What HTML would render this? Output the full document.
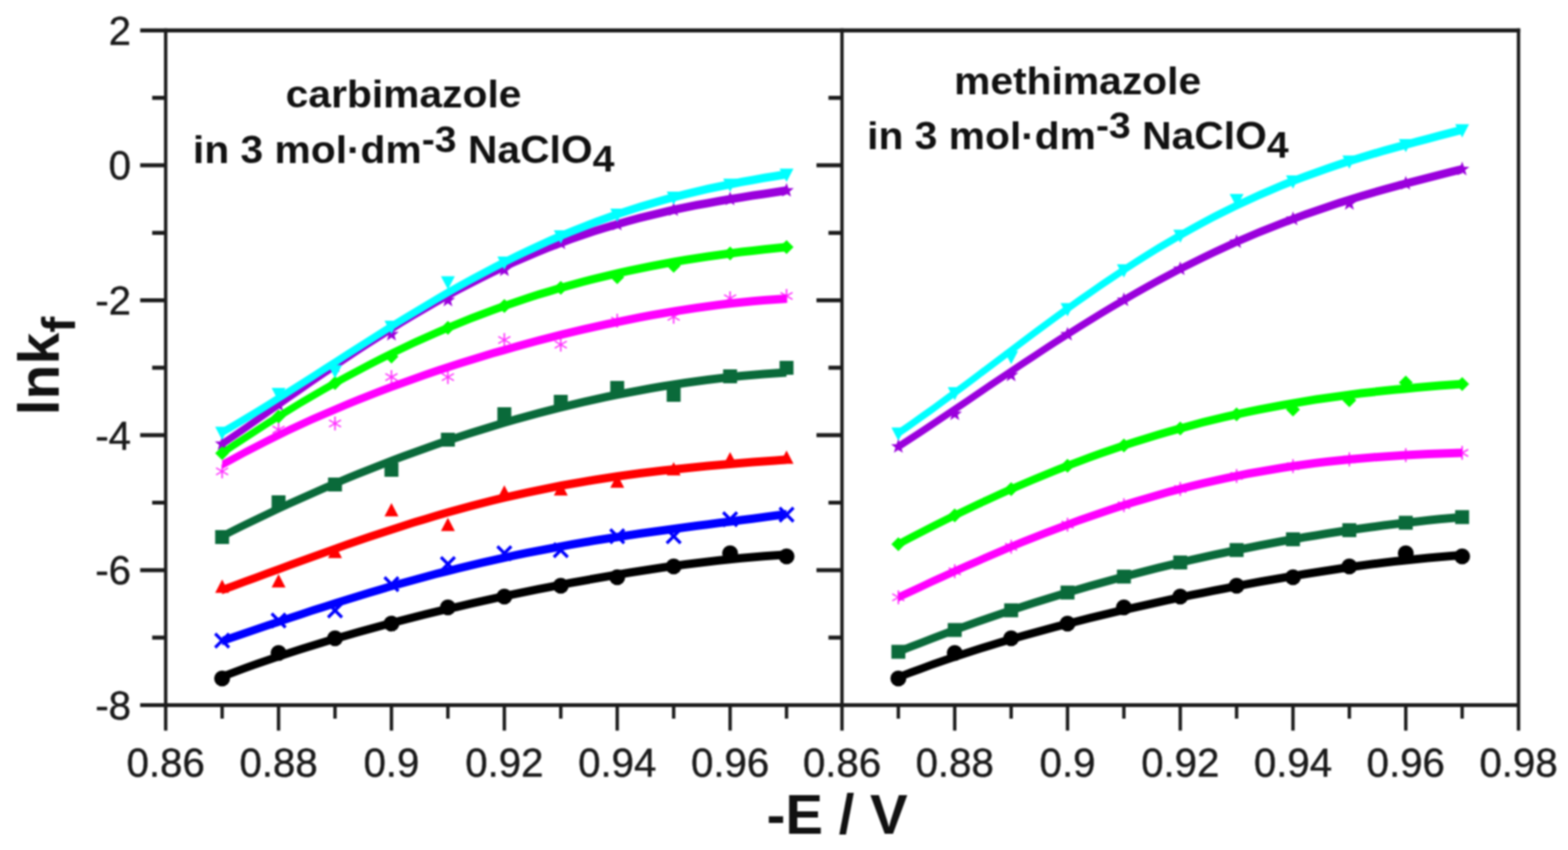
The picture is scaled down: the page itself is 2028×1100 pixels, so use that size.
<!DOCTYPE html>
<html lang="en">
<head>
<meta charset="utf-8">
<title>lnkf vs -E</title>
<style>
html,body{margin:0;padding:0;background:#fff;}
body{width:2028px;height:1100px;overflow:hidden;}
</style>
</head>
<body>
<svg width="2028" height="1100" viewBox="0 0 2028 1100" style="display:block;filter:blur(1px)">
<rect width="2028" height="1100" fill="#ffffff"/>
<g id="left-curves">
<polygon points="287.3,870.2 301.9,864.7 316.5,859.3 331.1,854.1 345.7,849.0 360.3,844.0 374.9,839.2 389.5,834.5 404.1,829.9 418.7,825.5 433.3,821.1 447.9,816.9 462.5,812.7 477.1,808.7 491.7,804.7 506.3,800.8 520.9,797.0 535.5,793.3 550.1,789.6 564.7,786.1 579.3,782.6 593.9,779.2 608.5,775.8 623.1,772.5 637.7,769.3 652.3,766.1 666.9,763.0 681.5,760.0 696.1,757.1 710.7,754.2 725.3,751.3 739.9,748.6 754.5,745.9 769.1,743.3 783.7,740.7 798.3,738.2 812.9,735.8 827.5,733.5 842.1,731.3 856.7,729.1 871.3,727.0 885.9,725.1 900.5,723.2 915.1,721.4 929.7,719.8 944.3,718.2 958.9,716.8 973.5,715.4 988.1,714.3 1002.7,713.2 1017.3,712.3 1017.3,723.3 1002.7,724.2 988.1,725.3 973.5,726.4 958.9,727.8 944.3,729.2 929.7,730.8 915.1,732.4 900.5,734.2 885.9,736.1 871.3,738.0 856.7,740.1 842.1,742.3 827.5,744.5 812.9,746.8 798.3,749.2 783.7,751.7 769.1,754.3 754.5,756.9 739.9,759.6 725.3,762.3 710.7,765.2 696.1,768.1 681.5,771.0 666.9,774.0 652.3,777.1 637.7,780.3 623.1,783.5 608.5,786.8 593.9,790.2 579.3,793.6 564.7,797.1 550.1,800.6 535.5,804.3 520.9,808.0 506.3,811.8 491.7,815.7 477.1,819.7 462.5,823.7 447.9,827.9 433.3,832.1 418.7,836.5 404.1,840.9 389.5,845.5 374.9,850.2 360.3,855.0 345.7,860.0 331.1,865.1 316.5,870.3 301.9,875.7 287.3,881.2" fill="#000000"/>
<circle cx="287.3" cy="878.0" r="10.3" fill="#000000"/>
<circle cx="360.3" cy="845.0" r="10.3" fill="#000000"/>
<circle cx="433.3" cy="826.0" r="10.3" fill="#000000"/>
<circle cx="506.3" cy="807.0" r="10.3" fill="#000000"/>
<circle cx="579.3" cy="786.0" r="10.3" fill="#000000"/>
<circle cx="652.3" cy="772.0" r="10.3" fill="#000000"/>
<circle cx="725.3" cy="758.0" r="10.3" fill="#000000"/>
<circle cx="798.3" cy="747.0" r="10.3" fill="#000000"/>
<circle cx="871.3" cy="733.0" r="10.3" fill="#000000"/>
<circle cx="944.3" cy="716.0" r="10.3" fill="#000000"/>
<circle cx="1017.3" cy="720.0" r="10.3" fill="#000000"/>
<polygon points="287.3,824.1 301.9,819.1 316.5,814.1 331.1,809.1 345.7,804.1 360.3,799.2 374.9,794.3 389.5,789.4 404.1,784.6 418.7,779.9 433.3,775.2 447.9,770.7 462.5,766.2 477.1,761.7 491.7,757.4 506.3,753.1 520.9,749.0 535.5,744.9 550.1,741.0 564.7,737.1 579.3,733.4 593.9,729.7 608.5,726.2 623.1,722.8 637.7,719.5 652.3,716.2 666.9,713.1 681.5,710.1 696.1,707.2 710.7,704.4 725.3,701.7 739.9,699.0 754.5,696.5 769.1,694.1 783.7,691.7 798.3,689.4 812.9,687.2 827.5,685.1 842.1,683.0 856.7,680.9 871.3,678.9 885.9,677.0 900.5,675.1 915.1,673.2 929.7,671.3 944.3,669.4 958.9,667.6 973.5,665.7 988.1,663.8 1002.7,661.8 1017.3,659.9 1017.3,670.9 1002.7,672.8 988.1,674.8 973.5,676.7 958.9,678.6 944.3,680.4 929.7,682.3 915.1,684.2 900.5,686.1 885.9,688.0 871.3,689.9 856.7,691.9 842.1,694.0 827.5,696.1 812.9,698.2 798.3,700.4 783.7,702.7 769.1,705.1 754.5,707.5 739.9,710.0 725.3,712.7 710.7,715.4 696.1,718.2 681.5,721.1 666.9,724.1 652.3,727.2 637.7,730.5 623.1,733.8 608.5,737.2 593.9,740.7 579.3,744.4 564.7,748.1 550.1,752.0 535.5,755.9 520.9,760.0 506.3,764.1 491.7,768.4 477.1,772.7 462.5,777.2 447.9,781.7 433.3,786.2 418.7,790.9 404.1,795.6 389.5,800.4 374.9,805.3 360.3,810.2 345.7,815.1 331.1,820.1 316.5,825.1 301.9,830.1 287.3,835.1" fill="#0000ff"/>
<path d="M278.3 820.0L296.3 838.0M278.3 838.0L296.3 820.0" stroke="#0000ff" stroke-width="4" fill="none"/>
<path d="M351.3 794.0L369.3 812.0M351.3 812.0L369.3 794.0" stroke="#0000ff" stroke-width="4" fill="none"/>
<path d="M424.3 781.0L442.3 799.0M424.3 799.0L442.3 781.0" stroke="#0000ff" stroke-width="4" fill="none"/>
<path d="M497.3 747.0L515.3 765.0M497.3 765.0L515.3 747.0" stroke="#0000ff" stroke-width="4" fill="none"/>
<path d="M570.3 721.0L588.3 739.0M570.3 739.0L588.3 721.0" stroke="#0000ff" stroke-width="4" fill="none"/>
<path d="M643.3 707.0L661.3 725.0M643.3 725.0L661.3 707.0" stroke="#0000ff" stroke-width="4" fill="none"/>
<path d="M716.3 703.0L734.3 721.0M716.3 721.0L734.3 703.0" stroke="#0000ff" stroke-width="4" fill="none"/>
<path d="M789.3 685.0L807.3 703.0M789.3 703.0L807.3 685.0" stroke="#0000ff" stroke-width="4" fill="none"/>
<path d="M862.3 685.0L880.3 703.0M862.3 703.0L880.3 685.0" stroke="#0000ff" stroke-width="4" fill="none"/>
<path d="M935.3 663.0L953.3 681.0M935.3 681.0L953.3 663.0" stroke="#0000ff" stroke-width="4" fill="none"/>
<path d="M1008.3 657.0L1026.3 675.0M1008.3 675.0L1026.3 657.0" stroke="#0000ff" stroke-width="4" fill="none"/>
<polygon points="287.3,758.0 301.9,752.7 316.5,747.3 331.1,742.0 345.7,736.6 360.3,731.2 374.9,725.8 389.5,720.5 404.1,715.2 418.7,709.9 433.3,704.7 447.9,699.6 462.5,694.5 477.1,689.5 491.7,684.7 506.3,679.9 520.9,675.2 535.5,670.6 550.1,666.2 564.7,661.8 579.3,657.6 593.9,653.6 608.5,649.6 623.1,645.8 637.7,642.1 652.3,638.6 666.9,635.2 681.5,632.0 696.1,628.9 710.7,625.9 725.3,623.1 739.9,620.4 754.5,617.9 769.1,615.4 783.7,613.2 798.3,611.0 812.9,608.9 827.5,607.0 842.1,605.2 856.7,603.5 871.3,601.9 885.9,600.4 900.5,598.9 915.1,597.5 929.7,596.2 944.3,595.0 958.9,593.8 973.5,592.6 988.1,591.5 1002.7,590.4 1017.3,589.2 1017.3,600.2 1002.7,601.4 988.1,602.5 973.5,603.6 958.9,604.8 944.3,606.0 929.7,607.2 915.1,608.5 900.5,609.9 885.9,611.4 871.3,612.9 856.7,614.5 842.1,616.2 827.5,618.0 812.9,619.9 798.3,622.0 783.7,624.2 769.1,626.4 754.5,628.9 739.9,631.4 725.3,634.1 710.7,636.9 696.1,639.9 681.5,643.0 666.9,646.2 652.3,649.6 637.7,653.1 623.1,656.8 608.5,660.6 593.9,664.6 579.3,668.6 564.7,672.8 550.1,677.2 535.5,681.6 520.9,686.2 506.3,690.9 491.7,695.7 477.1,700.5 462.5,705.5 447.9,710.6 433.3,715.7 418.7,720.9 404.1,726.2 389.5,731.5 374.9,736.8 360.3,742.2 345.7,747.6 331.1,753.0 316.5,758.3 301.9,763.7 287.3,769.0" fill="#ff0000"/>
<path d="M278.3 767.2L296.3 767.2L287.3 750.1Z" fill="#ff0000"/>
<path d="M351.3 760.2L369.3 760.2L360.3 743.1Z" fill="#ff0000"/>
<path d="M424.3 722.2L442.3 722.2L433.3 705.1Z" fill="#ff0000"/>
<path d="M497.3 668.2L515.3 668.2L506.3 651.1Z" fill="#ff0000"/>
<path d="M570.3 687.2L588.3 687.2L579.3 670.1Z" fill="#ff0000"/>
<path d="M643.3 645.2L661.3 645.2L652.3 628.1Z" fill="#ff0000"/>
<path d="M716.3 641.2L734.3 641.2L725.3 624.1Z" fill="#ff0000"/>
<path d="M789.3 631.2L807.3 631.2L798.3 614.1Z" fill="#ff0000"/>
<path d="M862.3 615.2L880.3 615.2L871.3 598.1Z" fill="#ff0000"/>
<path d="M935.3 602.2L953.3 602.2L944.3 585.1Z" fill="#ff0000"/>
<path d="M1008.3 600.2L1026.3 600.2L1017.3 583.1Z" fill="#ff0000"/>
<polygon points="287.3,688.5 301.9,681.1 316.5,673.8 331.1,666.7 345.7,659.7 360.3,652.8 374.9,646.0 389.5,639.4 404.1,632.9 418.7,626.5 433.3,620.2 447.9,614.1 462.5,608.1 477.1,602.2 491.7,596.4 506.3,590.8 520.9,585.3 535.5,579.9 550.1,574.7 564.7,569.5 579.3,564.6 593.9,559.7 608.5,555.0 623.1,550.4 637.7,545.9 652.3,541.5 666.9,537.3 681.5,533.2 696.1,529.3 710.7,525.5 725.3,521.8 739.9,518.2 754.5,514.8 769.1,511.5 783.7,508.3 798.3,505.3 812.9,502.4 827.5,499.7 842.1,497.0 856.7,494.6 871.3,492.2 885.9,490.0 900.5,487.9 915.1,486.0 929.7,484.2 944.3,482.6 958.9,481.0 973.5,479.7 988.1,478.4 1002.7,477.4 1017.3,476.4 1017.3,487.4 1002.7,488.4 988.1,489.4 973.5,490.7 958.9,492.0 944.3,493.6 929.7,495.2 915.1,497.0 900.5,498.9 885.9,501.0 871.3,503.2 856.7,505.6 842.1,508.0 827.5,510.7 812.9,513.4 798.3,516.3 783.7,519.3 769.1,522.5 754.5,525.8 739.9,529.2 725.3,532.8 710.7,536.5 696.1,540.3 681.5,544.2 666.9,548.3 652.3,552.5 637.7,556.9 623.1,561.4 608.5,566.0 593.9,570.7 579.3,575.6 564.7,580.5 550.1,585.7 535.5,590.9 520.9,596.3 506.3,601.8 491.7,607.4 477.1,613.2 462.5,619.1 447.9,625.1 433.3,631.2 418.7,637.5 404.1,643.9 389.5,650.4 374.9,657.0 360.3,663.8 345.7,670.7 331.1,677.7 316.5,684.8 301.9,692.1 287.3,699.5" fill="#0a6a3a"/>
<rect x="278.3" y="686.0" width="18.0" height="18.0" fill="#0a6a3a"/>
<rect x="351.3" y="641.0" width="18.0" height="18.0" fill="#0a6a3a"/>
<rect x="424.3" y="618.0" width="18.0" height="18.0" fill="#0a6a3a"/>
<rect x="497.3" y="599.0" width="18.0" height="18.0" fill="#0a6a3a"/>
<rect x="570.3" y="560.0" width="18.0" height="18.0" fill="#0a6a3a"/>
<rect x="643.3" y="527.0" width="18.0" height="18.0" fill="#0a6a3a"/>
<rect x="716.3" y="511.0" width="18.0" height="18.0" fill="#0a6a3a"/>
<rect x="789.3" y="493.0" width="18.0" height="18.0" fill="#0a6a3a"/>
<rect x="862.3" y="502.0" width="18.0" height="18.0" fill="#0a6a3a"/>
<rect x="935.3" y="478.0" width="18.0" height="18.0" fill="#0a6a3a"/>
<rect x="1008.3" y="467.0" width="18.0" height="18.0" fill="#0a6a3a"/>
<polygon points="287.3,596.1 301.9,587.9 316.5,580.0 331.1,572.4 345.7,564.9 360.3,557.7 374.9,550.6 389.5,543.8 404.1,537.1 418.7,530.7 433.3,524.4 447.9,518.2 462.5,512.3 477.1,506.5 491.7,500.8 506.3,495.3 520.9,489.9 535.5,484.7 550.1,479.6 564.7,474.6 579.3,469.8 593.9,465.0 608.5,460.4 623.1,456.0 637.7,451.6 652.3,447.4 666.9,443.2 681.5,439.2 696.1,435.3 710.7,431.5 725.3,427.8 739.9,424.3 754.5,420.8 769.1,417.5 783.7,414.3 798.3,411.2 812.9,408.2 827.5,405.3 842.1,402.6 856.7,400.0 871.3,397.5 885.9,395.2 900.5,393.0 915.1,391.0 929.7,389.1 944.3,387.3 958.9,385.7 973.5,384.3 988.1,383.1 1002.7,382.0 1017.3,381.1 1017.3,392.1 1002.7,393.0 988.1,394.1 973.5,395.3 958.9,396.7 944.3,398.3 929.7,400.1 915.1,402.0 900.5,404.0 885.9,406.2 871.3,408.5 856.7,411.0 842.1,413.6 827.5,416.3 812.9,419.2 798.3,422.2 783.7,425.3 769.1,428.5 754.5,431.8 739.9,435.3 725.3,438.8 710.7,442.5 696.1,446.3 681.5,450.2 666.9,454.2 652.3,458.4 637.7,462.6 623.1,467.0 608.5,471.4 593.9,476.0 579.3,480.8 564.7,485.6 550.1,490.6 535.5,495.7 520.9,500.9 506.3,506.3 491.7,511.8 477.1,517.5 462.5,523.3 447.9,529.2 433.3,535.4 418.7,541.7 404.1,548.1 389.5,554.8 374.9,561.6 360.3,568.7 345.7,575.9 331.1,583.4 316.5,591.0 301.9,598.9 287.3,607.1" fill="#ff00ff"/>
<path d="M287.3 601.0L287.3 619.0M279.5 605.5L295.1 614.5M295.1 605.5L279.5 614.5" stroke="#ff00ff" stroke-width="2" fill="none" opacity="0.8"/>
<path d="M360.3 547.0L360.3 565.0M352.5 551.5L368.1 560.5M368.1 551.5L352.5 560.5" stroke="#ff00ff" stroke-width="2" fill="none" opacity="0.8"/>
<path d="M433.3 539.0L433.3 557.0M425.5 543.5L441.1 552.5M441.1 543.5L425.5 552.5" stroke="#ff00ff" stroke-width="2" fill="none" opacity="0.8"/>
<path d="M506.3 479.0L506.3 497.0M498.5 483.5L514.1 492.5M514.1 483.5L498.5 492.5" stroke="#ff00ff" stroke-width="2" fill="none" opacity="0.8"/>
<path d="M579.3 479.0L579.3 497.0M571.5 483.5L587.1 492.5M587.1 483.5L571.5 492.5" stroke="#ff00ff" stroke-width="2" fill="none" opacity="0.8"/>
<path d="M652.3 431.0L652.3 449.0M644.5 435.5L660.1 444.5M660.1 435.5L644.5 444.5" stroke="#ff00ff" stroke-width="2" fill="none" opacity="0.8"/>
<path d="M725.3 437.0L725.3 455.0M717.5 441.5L733.1 450.5M733.1 441.5L717.5 450.5" stroke="#ff00ff" stroke-width="2" fill="none" opacity="0.8"/>
<path d="M798.3 406.0L798.3 424.0M790.5 410.5L806.1 419.5M806.1 410.5L790.5 419.5" stroke="#ff00ff" stroke-width="2" fill="none" opacity="0.8"/>
<path d="M871.3 401.0L871.3 419.0M863.5 405.5L879.1 414.5M879.1 405.5L863.5 414.5" stroke="#ff00ff" stroke-width="2" fill="none" opacity="0.8"/>
<path d="M944.3 377.0L944.3 395.0M936.5 381.5L952.1 390.5M952.1 381.5L936.5 390.5" stroke="#ff00ff" stroke-width="2" fill="none" opacity="0.8"/>
<path d="M1017.3 374.0L1017.3 392.0M1009.5 378.5L1025.1 387.5M1025.1 378.5L1009.5 387.5" stroke="#ff00ff" stroke-width="2" fill="none" opacity="0.8"/>
<polygon points="287.3,569.1 301.9,559.0 316.5,548.9 331.1,538.7 345.7,528.5 360.3,518.3 374.9,508.1 389.5,497.9 404.1,487.8 418.7,477.8 433.3,467.9 447.9,458.0 462.5,448.3 477.1,438.8 491.7,429.4 506.3,420.2 520.9,411.1 535.5,402.3 550.1,393.7 564.7,385.3 579.3,377.1 593.9,369.1 608.5,361.4 623.1,354.0 637.7,346.8 652.3,339.8 666.9,333.1 681.5,326.7 696.1,320.5 710.7,314.6 725.3,309.0 739.9,303.6 754.5,298.5 769.1,293.6 783.7,289.0 798.3,284.7 812.9,280.5 827.5,276.6 842.1,272.9 856.7,269.4 871.3,266.1 885.9,263.0 900.5,260.1 915.1,257.4 929.7,254.7 944.3,252.2 958.9,249.9 973.5,247.6 988.1,245.4 1002.7,243.2 1017.3,241.1 1017.3,252.1 1002.7,254.2 988.1,256.4 973.5,258.6 958.9,260.9 944.3,263.2 929.7,265.7 915.1,268.4 900.5,271.1 885.9,274.0 871.3,277.1 856.7,280.4 842.1,283.9 827.5,287.6 812.9,291.5 798.3,295.7 783.7,300.0 769.1,304.6 754.5,309.5 739.9,314.6 725.3,320.0 710.7,325.6 696.1,331.5 681.5,337.7 666.9,344.1 652.3,350.8 637.7,357.8 623.1,365.0 608.5,372.4 593.9,380.1 579.3,388.1 564.7,396.3 550.1,404.7 535.5,413.3 520.9,422.1 506.3,431.2 491.7,440.4 477.1,449.8 462.5,459.3 447.9,469.0 433.3,478.9 418.7,488.8 404.1,498.8 389.5,508.9 374.9,519.1 360.3,529.3 345.7,539.5 331.1,549.7 316.5,559.9 301.9,570.0 287.3,580.1" fill="#9a00dc"/>
<polygon points="287.3,564.7 289.7,571.3 296.7,571.5 291.2,575.8 293.1,582.6 287.3,578.6 281.5,582.6 283.4,575.8 277.9,571.5 284.9,571.3" fill="#9a00dc"/>
<polygon points="360.3,513.9 362.7,520.5 369.7,520.8 364.2,525.1 366.1,531.8 360.3,527.9 354.5,531.8 356.4,525.1 350.9,520.8 357.9,520.5" fill="#9a00dc"/>
<polygon points="433.3,463.5 435.7,470.1 442.7,470.3 437.2,474.6 439.1,481.4 433.3,477.4 427.5,481.4 429.4,474.6 423.9,470.3 430.9,470.1" fill="#9a00dc"/>
<polygon points="506.3,422.8 508.7,429.4 515.7,429.6 510.2,433.9 512.1,440.7 506.3,436.7 500.5,440.7 502.4,433.9 496.9,429.6 503.9,429.4" fill="#9a00dc"/>
<polygon points="579.3,378.7 581.7,385.3 588.7,385.5 583.2,389.8 585.1,396.6 579.3,392.6 573.5,396.6 575.4,389.8 569.9,385.5 576.9,385.3" fill="#9a00dc"/>
<polygon points="652.3,339.4 654.7,346.0 661.7,346.3 656.2,350.6 658.1,357.3 652.3,353.4 646.5,357.3 648.4,350.6 642.9,346.3 649.9,346.0" fill="#9a00dc"/>
<polygon points="725.3,304.6 727.7,311.2 734.7,311.4 729.2,315.8 731.1,322.5 725.3,318.6 719.5,322.5 721.4,315.8 715.9,311.4 722.9,311.2" fill="#9a00dc"/>
<polygon points="798.3,280.3 800.7,286.9 807.7,287.1 802.2,291.4 804.1,298.2 798.3,294.2 792.5,298.2 794.4,291.4 788.9,287.1 795.9,286.9" fill="#9a00dc"/>
<polygon points="871.3,261.7 873.7,268.4 880.7,268.6 875.2,272.9 877.1,279.6 871.3,275.7 865.5,279.6 867.4,272.9 861.9,268.6 868.9,268.4" fill="#9a00dc"/>
<polygon points="944.3,247.8 946.7,254.5 953.7,254.7 948.2,259.0 950.1,265.8 944.3,261.8 938.5,265.8 940.4,259.0 934.9,254.7 941.9,254.5" fill="#9a00dc"/>
<polygon points="1017.3,236.7 1019.7,243.4 1026.7,243.6 1021.2,247.9 1023.1,254.6 1017.3,250.7 1011.5,254.6 1013.4,247.9 1007.9,243.6 1014.9,243.4" fill="#9a00dc"/>
<polygon points="287.3,581.0 301.9,571.1 316.5,561.4 331.1,551.9 345.7,542.5 360.3,533.4 374.9,524.4 389.5,515.6 404.1,506.9 418.7,498.5 433.3,490.3 447.9,482.2 462.5,474.4 477.1,466.7 491.7,459.2 506.3,452.0 520.9,444.9 535.5,438.1 550.1,431.4 564.7,425.0 579.3,418.7 593.9,412.7 608.5,406.8 623.1,401.2 637.7,395.7 652.3,390.5 666.9,385.4 681.5,380.5 696.1,375.8 710.7,371.4 725.3,367.1 739.9,362.9 754.5,359.0 769.1,355.3 783.7,351.7 798.3,348.3 812.9,345.0 827.5,341.9 842.1,339.0 856.7,336.2 871.3,333.6 885.9,331.1 900.5,328.8 915.1,326.5 929.7,324.5 944.3,322.5 958.9,320.6 973.5,318.9 988.1,317.2 1002.7,315.7 1017.3,314.2 1017.3,325.2 1002.7,326.7 988.1,328.2 973.5,329.9 958.9,331.6 944.3,333.5 929.7,335.5 915.1,337.5 900.5,339.8 885.9,342.1 871.3,344.6 856.7,347.2 842.1,350.0 827.5,352.9 812.9,356.0 798.3,359.3 783.7,362.7 769.1,366.3 754.5,370.0 739.9,373.9 725.3,378.1 710.7,382.4 696.1,386.8 681.5,391.5 666.9,396.4 652.3,401.5 637.7,406.7 623.1,412.2 608.5,417.8 593.9,423.7 579.3,429.7 564.7,436.0 550.1,442.4 535.5,449.1 520.9,455.9 506.3,463.0 491.7,470.2 477.1,477.7 462.5,485.4 447.9,493.2 433.3,501.3 418.7,509.5 404.1,517.9 389.5,526.6 374.9,535.4 360.3,544.4 345.7,553.5 331.1,562.9 316.5,572.4 301.9,582.1 287.3,592.0" fill="#00ff00"/>
<path d="M278.3 586.5L287.3 577.5L296.3 586.5L287.3 595.5Z" fill="#00ff00"/>
<path d="M351.3 538.9L360.3 529.9L369.3 538.9L360.3 547.9Z" fill="#00ff00"/>
<path d="M424.3 495.8L433.3 486.8L442.3 495.8L433.3 504.8Z" fill="#00ff00"/>
<path d="M497.3 461.5L506.3 452.5L515.3 461.5L506.3 470.5Z" fill="#00ff00"/>
<path d="M570.3 424.2L579.3 415.2L588.3 424.2L579.3 433.2Z" fill="#00ff00"/>
<path d="M643.3 396.0L652.3 387.0L661.3 396.0L652.3 405.0Z" fill="#00ff00"/>
<path d="M716.3 372.6L725.3 363.6L734.3 372.6L725.3 381.6Z" fill="#00ff00"/>
<path d="M789.3 358.8L798.3 349.8L807.3 358.8L798.3 367.8Z" fill="#00ff00"/>
<path d="M862.3 344.1L871.3 335.1L880.3 344.1L871.3 353.1Z" fill="#00ff00"/>
<path d="M935.3 328.0L944.3 319.0L953.3 328.0L944.3 337.0Z" fill="#00ff00"/>
<path d="M1008.3 319.7L1017.3 310.7L1026.3 319.7L1017.3 328.7Z" fill="#00ff00"/>
<polygon points="287.3,554.0 301.9,545.5 316.5,536.8 331.1,528.0 345.7,519.0 360.3,509.8 374.9,500.6 389.5,491.3 404.1,482.0 418.7,472.6 433.3,463.2 447.9,453.8 462.5,444.5 477.1,435.2 491.7,426.0 506.3,416.8 520.9,407.8 535.5,398.9 550.1,390.2 564.7,381.6 579.3,373.1 593.9,364.8 608.5,356.8 623.1,348.9 637.7,341.2 652.3,333.7 666.9,326.5 681.5,319.5 696.1,312.7 710.7,306.1 725.3,299.8 739.9,293.7 754.5,287.9 769.1,282.3 783.7,276.9 798.3,271.8 812.9,266.9 827.5,262.3 842.1,257.9 856.7,253.7 871.3,249.7 885.9,246.0 900.5,242.4 915.1,239.1 929.7,235.9 944.3,232.9 958.9,230.0 973.5,227.4 988.1,224.8 1002.7,222.4 1017.3,220.0 1017.3,231.0 1002.7,233.4 988.1,235.8 973.5,238.4 958.9,241.0 944.3,243.9 929.7,246.9 915.1,250.1 900.5,253.4 885.9,257.0 871.3,260.7 856.7,264.7 842.1,268.9 827.5,273.3 812.9,277.9 798.3,282.8 783.7,287.9 769.1,293.3 754.5,298.9 739.9,304.7 725.3,310.8 710.7,317.1 696.1,323.7 681.5,330.5 666.9,337.5 652.3,344.7 637.7,352.2 623.1,359.9 608.5,367.8 593.9,375.8 579.3,384.1 564.7,392.6 550.1,401.2 535.5,409.9 520.9,418.8 506.3,427.8 491.7,437.0 477.1,446.2 462.5,455.5 447.9,464.8 433.3,474.2 418.7,483.6 404.1,493.0 389.5,502.3 374.9,511.6 360.3,520.8 345.7,530.0 331.1,539.0 316.5,547.8 301.9,556.5 287.3,565.0" fill="#00ffff"/>
<path d="M278.3 552.3L296.3 552.3L287.3 569.4Z" fill="#00ffff"/>
<path d="M351.3 502.1L369.3 502.1L360.3 519.2Z" fill="#00ffff"/>
<path d="M424.3 472.5L442.3 472.5L433.3 489.6Z" fill="#00ffff"/>
<path d="M497.3 415.1L515.3 415.1L506.3 432.2Z" fill="#00ffff"/>
<path d="M570.3 357.4L588.3 357.4L579.3 374.5Z" fill="#00ffff"/>
<path d="M643.3 332.0L661.3 332.0L652.3 349.1Z" fill="#00ffff"/>
<path d="M716.3 298.1L734.3 298.1L725.3 315.2Z" fill="#00ffff"/>
<path d="M789.3 270.1L807.3 270.1L798.3 287.2Z" fill="#00ffff"/>
<path d="M862.3 248.0L880.3 248.0L871.3 265.1Z" fill="#00ffff"/>
<path d="M935.3 231.2L953.3 231.2L944.3 248.3Z" fill="#00ffff"/>
<path d="M1008.3 218.3L1026.3 218.3L1017.3 235.4Z" fill="#00ffff"/>
</g>
<g id="right-curves">
<polygon points="1161.9,870.9 1176.5,865.3 1191.1,859.9 1205.7,854.6 1220.2,849.5 1234.8,844.5 1249.4,839.7 1264.0,835.0 1278.6,830.5 1293.2,826.0 1307.8,821.7 1322.3,817.5 1336.9,813.4 1351.5,809.4 1366.1,805.5 1380.7,801.7 1395.3,798.0 1409.8,794.3 1424.4,790.8 1439.0,787.3 1453.6,783.8 1468.2,780.5 1482.8,777.2 1497.3,774.0 1511.9,770.8 1526.5,767.7 1541.1,764.6 1555.7,761.7 1570.2,758.7 1584.8,755.9 1599.4,753.1 1614.0,750.3 1628.6,747.6 1643.2,745.0 1657.7,742.5 1672.3,740.0 1686.9,737.5 1701.5,735.2 1716.1,732.9 1730.7,730.7 1745.2,728.6 1759.8,726.6 1774.4,724.6 1789.0,722.8 1803.6,721.1 1818.2,719.4 1832.8,717.9 1847.3,716.5 1861.9,715.2 1876.5,714.1 1891.1,713.0 1891.1,724.0 1876.5,725.1 1861.9,726.2 1847.3,727.5 1832.8,728.9 1818.2,730.4 1803.6,732.1 1789.0,733.8 1774.4,735.6 1759.8,737.6 1745.2,739.6 1730.7,741.7 1716.1,743.9 1701.5,746.2 1686.9,748.5 1672.3,751.0 1657.7,753.5 1643.2,756.0 1628.6,758.6 1614.0,761.3 1599.4,764.1 1584.8,766.9 1570.2,769.7 1555.7,772.7 1541.1,775.6 1526.5,778.7 1511.9,781.8 1497.3,785.0 1482.8,788.2 1468.2,791.5 1453.6,794.8 1439.0,798.3 1424.4,801.8 1409.8,805.3 1395.3,809.0 1380.7,812.7 1366.1,816.5 1351.5,820.4 1336.9,824.4 1322.3,828.5 1307.8,832.7 1293.2,837.0 1278.6,841.5 1264.0,846.0 1249.4,850.7 1234.8,855.5 1220.2,860.5 1205.7,865.6 1191.1,870.9 1176.5,876.3 1161.9,881.9" fill="#000000"/>
<circle cx="1161.9" cy="878.0" r="10.3" fill="#000000"/>
<circle cx="1234.8" cy="845.0" r="10.3" fill="#000000"/>
<circle cx="1307.8" cy="826.0" r="10.3" fill="#000000"/>
<circle cx="1380.7" cy="807.0" r="10.3" fill="#000000"/>
<circle cx="1453.6" cy="786.0" r="10.3" fill="#000000"/>
<circle cx="1526.5" cy="772.0" r="10.3" fill="#000000"/>
<circle cx="1599.4" cy="758.0" r="10.3" fill="#000000"/>
<circle cx="1672.3" cy="747.0" r="10.3" fill="#000000"/>
<circle cx="1745.2" cy="733.0" r="10.3" fill="#000000"/>
<circle cx="1818.2" cy="716.0" r="10.3" fill="#000000"/>
<circle cx="1891.1" cy="720.0" r="10.3" fill="#000000"/>
<polygon points="1161.9,838.0 1176.5,832.1 1191.1,826.4 1205.7,820.7 1220.2,815.2 1234.8,809.8 1249.4,804.5 1264.0,799.3 1278.6,794.2 1293.2,789.2 1307.8,784.3 1322.3,779.5 1336.9,774.8 1351.5,770.2 1366.1,765.7 1380.7,761.3 1395.3,757.0 1409.8,752.8 1424.4,748.7 1439.0,744.7 1453.6,740.7 1468.2,736.9 1482.8,733.2 1497.3,729.5 1511.9,725.9 1526.5,722.4 1541.1,719.0 1555.7,715.7 1570.2,712.5 1584.8,709.4 1599.4,706.3 1614.0,703.4 1628.6,700.5 1643.2,697.7 1657.7,695.0 1672.3,692.4 1686.9,689.8 1701.5,687.4 1716.1,685.0 1730.7,682.8 1745.2,680.6 1759.8,678.5 1774.4,676.5 1789.0,674.6 1803.6,672.7 1818.2,671.0 1832.8,669.4 1847.3,667.8 1861.9,666.3 1876.5,665.0 1891.1,663.7 1891.1,674.7 1876.5,676.0 1861.9,677.3 1847.3,678.8 1832.8,680.4 1818.2,682.0 1803.6,683.7 1789.0,685.6 1774.4,687.5 1759.8,689.5 1745.2,691.6 1730.7,693.8 1716.1,696.0 1701.5,698.4 1686.9,700.8 1672.3,703.4 1657.7,706.0 1643.2,708.7 1628.6,711.5 1614.0,714.4 1599.4,717.3 1584.8,720.4 1570.2,723.5 1555.7,726.7 1541.1,730.0 1526.5,733.4 1511.9,736.9 1497.3,740.5 1482.8,744.2 1468.2,747.9 1453.6,751.7 1439.0,755.7 1424.4,759.7 1409.8,763.8 1395.3,768.0 1380.7,772.3 1366.1,776.7 1351.5,781.2 1336.9,785.8 1322.3,790.5 1307.8,795.3 1293.2,800.2 1278.6,805.2 1264.0,810.3 1249.4,815.5 1234.8,820.8 1220.2,826.2 1205.7,831.7 1191.1,837.4 1176.5,843.1 1161.9,849.0" fill="#0a6a3a"/>
<rect x="1152.9" y="834.5" width="18.0" height="18.0" fill="#0a6a3a"/>
<rect x="1225.8" y="806.3" width="18.0" height="18.0" fill="#0a6a3a"/>
<rect x="1298.8" y="780.8" width="18.0" height="18.0" fill="#0a6a3a"/>
<rect x="1371.7" y="757.8" width="18.0" height="18.0" fill="#0a6a3a"/>
<rect x="1444.6" y="737.2" width="18.0" height="18.0" fill="#0a6a3a"/>
<rect x="1517.5" y="718.9" width="18.0" height="18.0" fill="#0a6a3a"/>
<rect x="1590.4" y="702.8" width="18.0" height="18.0" fill="#0a6a3a"/>
<rect x="1663.3" y="688.9" width="18.0" height="18.0" fill="#0a6a3a"/>
<rect x="1736.2" y="677.1" width="18.0" height="18.0" fill="#0a6a3a"/>
<rect x="1809.2" y="667.5" width="18.0" height="18.0" fill="#0a6a3a"/>
<rect x="1882.1" y="660.2" width="18.0" height="18.0" fill="#0a6a3a"/>
<polygon points="1161.9,767.5 1176.5,760.7 1191.1,753.9 1205.7,747.1 1220.2,740.4 1234.8,733.8 1249.4,727.3 1264.0,720.9 1278.6,714.5 1293.2,708.3 1307.8,702.1 1322.3,696.1 1336.9,690.3 1351.5,684.5 1366.1,678.9 1380.7,673.4 1395.3,668.1 1409.8,662.9 1424.4,657.9 1439.0,653.0 1453.6,648.3 1468.2,643.8 1482.8,639.4 1497.3,635.2 1511.9,631.1 1526.5,627.3 1541.1,623.6 1555.7,620.0 1570.2,616.7 1584.8,613.5 1599.4,610.4 1614.0,607.6 1628.6,604.9 1643.2,602.4 1657.7,600.0 1672.3,597.8 1686.9,595.7 1701.5,593.8 1716.1,592.1 1730.7,590.5 1745.2,589.0 1759.8,587.7 1774.4,586.5 1789.0,585.4 1803.6,584.4 1818.2,583.5 1832.8,582.8 1847.3,582.1 1861.9,581.5 1876.5,581.0 1891.1,580.6 1891.1,591.6 1876.5,592.0 1861.9,592.5 1847.3,593.1 1832.8,593.8 1818.2,594.5 1803.6,595.4 1789.0,596.4 1774.4,597.5 1759.8,598.7 1745.2,600.0 1730.7,601.5 1716.1,603.1 1701.5,604.8 1686.9,606.7 1672.3,608.8 1657.7,611.0 1643.2,613.4 1628.6,615.9 1614.0,618.6 1599.4,621.4 1584.8,624.5 1570.2,627.7 1555.7,631.0 1541.1,634.6 1526.5,638.3 1511.9,642.1 1497.3,646.2 1482.8,650.4 1468.2,654.8 1453.6,659.3 1439.0,664.0 1424.4,668.9 1409.8,673.9 1395.3,679.1 1380.7,684.4 1366.1,689.9 1351.5,695.5 1336.9,701.3 1322.3,707.1 1307.8,713.1 1293.2,719.3 1278.6,725.5 1264.0,731.9 1249.4,738.3 1234.8,744.8 1220.2,751.4 1205.7,758.1 1191.1,764.9 1176.5,771.7 1161.9,778.5" fill="#ff00ff"/>
<path d="M1161.9 764.0L1161.9 782.0M1154.1 768.5L1169.7 777.5M1169.7 768.5L1154.1 777.5" stroke="#ff00ff" stroke-width="2" fill="none" opacity="0.8"/>
<path d="M1234.8 730.3L1234.8 748.3M1227.0 734.8L1242.6 743.8M1242.6 734.8L1227.0 743.8" stroke="#ff00ff" stroke-width="2" fill="none" opacity="0.8"/>
<path d="M1307.8 698.6L1307.8 716.6M1300.0 703.1L1315.5 712.1M1315.5 703.1L1300.0 712.1" stroke="#ff00ff" stroke-width="2" fill="none" opacity="0.8"/>
<path d="M1380.7 669.9L1380.7 687.9M1372.9 674.4L1388.5 683.4M1388.5 674.4L1372.9 683.4" stroke="#ff00ff" stroke-width="2" fill="none" opacity="0.8"/>
<path d="M1453.6 644.8L1453.6 662.8M1445.8 649.3L1461.4 658.3M1461.4 649.3L1445.8 658.3" stroke="#ff00ff" stroke-width="2" fill="none" opacity="0.8"/>
<path d="M1526.5 623.8L1526.5 641.8M1518.7 628.3L1534.3 637.3M1534.3 628.3L1518.7 637.3" stroke="#ff00ff" stroke-width="2" fill="none" opacity="0.8"/>
<path d="M1599.4 606.9L1599.4 624.9M1591.6 611.4L1607.2 620.4M1607.2 611.4L1591.6 620.4" stroke="#ff00ff" stroke-width="2" fill="none" opacity="0.8"/>
<path d="M1672.3 594.3L1672.3 612.3M1664.5 598.8L1680.1 607.8M1680.1 598.8L1664.5 607.8" stroke="#ff00ff" stroke-width="2" fill="none" opacity="0.8"/>
<path d="M1745.2 585.5L1745.2 603.5M1737.5 590.0L1753.0 599.0M1753.0 590.0L1737.5 599.0" stroke="#ff00ff" stroke-width="2" fill="none" opacity="0.8"/>
<path d="M1818.2 580.0L1818.2 598.0M1810.4 584.5L1826.0 593.5M1826.0 584.5L1810.4 593.5" stroke="#ff00ff" stroke-width="2" fill="none" opacity="0.8"/>
<path d="M1891.1 577.1L1891.1 595.1M1883.3 581.6L1898.9 590.6M1898.9 581.6L1883.3 590.6" stroke="#ff00ff" stroke-width="2" fill="none" opacity="0.8"/>
<polygon points="1161.9,698.8 1176.5,691.1 1191.1,683.5 1205.7,676.1 1220.2,668.7 1234.8,661.5 1249.4,654.5 1264.0,647.5 1278.6,640.7 1293.2,634.1 1307.8,627.6 1322.3,621.2 1336.9,615.0 1351.5,608.9 1366.1,603.0 1380.7,597.3 1395.3,591.7 1409.8,586.3 1424.4,581.1 1439.0,576.0 1453.6,571.1 1468.2,566.3 1482.8,561.7 1497.3,557.3 1511.9,553.0 1526.5,548.9 1541.1,544.9 1555.7,541.1 1570.2,537.5 1584.8,534.1 1599.4,530.7 1614.0,527.6 1628.6,524.6 1643.2,521.7 1657.7,519.0 1672.3,516.4 1686.9,513.9 1701.5,511.6 1716.1,509.4 1730.7,507.4 1745.2,505.5 1759.8,503.6 1774.4,501.9 1789.0,500.3 1803.6,498.8 1818.2,497.4 1832.8,496.0 1847.3,494.8 1861.9,493.6 1876.5,492.5 1891.1,491.4 1891.1,502.4 1876.5,503.5 1861.9,504.6 1847.3,505.8 1832.8,507.0 1818.2,508.4 1803.6,509.8 1789.0,511.3 1774.4,512.9 1759.8,514.6 1745.2,516.5 1730.7,518.4 1716.1,520.4 1701.5,522.6 1686.9,524.9 1672.3,527.4 1657.7,530.0 1643.2,532.7 1628.6,535.6 1614.0,538.6 1599.4,541.7 1584.8,545.1 1570.2,548.5 1555.7,552.1 1541.1,555.9 1526.5,559.9 1511.9,564.0 1497.3,568.3 1482.8,572.7 1468.2,577.3 1453.6,582.1 1439.0,587.0 1424.4,592.1 1409.8,597.3 1395.3,602.7 1380.7,608.3 1366.1,614.0 1351.5,619.9 1336.9,626.0 1322.3,632.2 1307.8,638.6 1293.2,645.1 1278.6,651.7 1264.0,658.5 1249.4,665.5 1234.8,672.5 1220.2,679.7 1205.7,687.1 1191.1,694.5 1176.5,702.1 1161.9,709.8" fill="#00ff00"/>
<path d="M1152.9 704.3L1161.9 695.3L1170.9 704.3L1161.9 713.3Z" fill="#00ff00"/>
<path d="M1225.8 667.0L1234.8 658.0L1243.8 667.0L1234.8 676.0Z" fill="#00ff00"/>
<path d="M1298.8 633.1L1307.8 624.1L1316.8 633.1L1307.8 642.1Z" fill="#00ff00"/>
<path d="M1371.7 602.8L1380.7 593.8L1389.7 602.8L1380.7 611.8Z" fill="#00ff00"/>
<path d="M1444.6 576.6L1453.6 567.6L1462.6 576.6L1453.6 585.6Z" fill="#00ff00"/>
<path d="M1517.5 554.4L1526.5 545.4L1535.5 554.4L1526.5 563.4Z" fill="#00ff00"/>
<path d="M1590.4 536.2L1599.4 527.2L1608.4 536.2L1599.4 545.2Z" fill="#00ff00"/>
<path d="M1663.3 529.9L1672.3 520.9L1681.3 529.9L1672.3 538.9Z" fill="#00ff00"/>
<path d="M1736.2 518.0L1745.2 509.0L1754.2 518.0L1745.2 527.0Z" fill="#00ff00"/>
<path d="M1809.2 494.9L1818.2 485.9L1827.2 494.9L1818.2 503.9Z" fill="#00ff00"/>
<path d="M1882.1 496.9L1891.1 487.9L1900.1 496.9L1891.1 505.9Z" fill="#00ff00"/>
<polygon points="1161.9,555.0 1176.5,544.9 1191.1,534.6 1205.7,524.2 1220.2,513.5 1234.8,502.7 1249.4,491.9 1264.0,480.9 1278.6,469.9 1293.2,458.9 1307.8,447.9 1322.3,437.0 1336.9,426.1 1351.5,415.3 1366.1,404.6 1380.7,394.0 1395.3,383.6 1409.8,373.4 1424.4,363.3 1439.0,353.4 1453.6,343.8 1468.2,334.3 1482.8,325.1 1497.3,316.1 1511.9,307.4 1526.5,298.9 1541.1,290.7 1555.7,282.8 1570.2,275.1 1584.8,267.7 1599.4,260.6 1614.0,253.7 1628.6,247.1 1643.2,240.7 1657.7,234.6 1672.3,228.8 1686.9,223.2 1701.5,217.9 1716.1,212.7 1730.7,207.8 1745.2,203.0 1759.8,198.5 1774.4,194.1 1789.0,189.8 1803.6,185.7 1818.2,181.7 1832.8,177.8 1847.3,174.0 1861.9,170.1 1876.5,166.3 1891.1,162.5 1891.1,173.5 1876.5,177.3 1861.9,181.1 1847.3,185.0 1832.8,188.8 1818.2,192.7 1803.6,196.7 1789.0,200.8 1774.4,205.1 1759.8,209.5 1745.2,214.0 1730.7,218.8 1716.1,223.7 1701.5,228.9 1686.9,234.2 1672.3,239.8 1657.7,245.6 1643.2,251.7 1628.6,258.1 1614.0,264.7 1599.4,271.6 1584.8,278.7 1570.2,286.1 1555.7,293.8 1541.1,301.7 1526.5,309.9 1511.9,318.4 1497.3,327.1 1482.8,336.1 1468.2,345.3 1453.6,354.8 1439.0,364.4 1424.4,374.3 1409.8,384.4 1395.3,394.6 1380.7,405.0 1366.1,415.6 1351.5,426.3 1336.9,437.1 1322.3,448.0 1307.8,458.9 1293.2,469.9 1278.6,480.9 1264.0,491.9 1249.4,502.9 1234.8,513.7 1220.2,524.5 1205.7,535.2 1191.1,545.6 1176.5,555.9 1161.9,566.0" fill="#00ffff"/>
<path d="M1152.9 553.3L1170.9 553.3L1161.9 570.4Z" fill="#00ffff"/>
<path d="M1225.8 501.0L1243.8 501.0L1234.8 518.1Z" fill="#00ffff"/>
<path d="M1298.8 454.2L1316.8 454.2L1307.8 471.3Z" fill="#00ffff"/>
<path d="M1371.7 392.3L1389.7 392.3L1380.7 409.4Z" fill="#00ffff"/>
<path d="M1444.6 342.1L1462.6 342.1L1453.6 359.2Z" fill="#00ffff"/>
<path d="M1517.5 297.2L1535.5 297.2L1526.5 314.3Z" fill="#00ffff"/>
<path d="M1590.4 250.9L1608.4 250.9L1599.4 268.0Z" fill="#00ffff"/>
<path d="M1663.3 227.1L1681.3 227.1L1672.3 244.2Z" fill="#00ffff"/>
<path d="M1736.2 201.3L1754.2 201.3L1745.2 218.4Z" fill="#00ffff"/>
<path d="M1809.2 180.0L1827.2 180.0L1818.2 197.1Z" fill="#00ffff"/>
<path d="M1882.1 160.8L1900.1 160.8L1891.1 177.9Z" fill="#00ffff"/>
<polygon points="1161.9,572.5 1176.5,563.0 1191.1,553.5 1205.7,543.8 1220.2,534.0 1234.8,524.2 1249.4,514.4 1264.0,504.5 1278.6,494.6 1293.2,484.8 1307.8,475.0 1322.3,465.3 1336.9,455.7 1351.5,446.1 1366.1,436.6 1380.7,427.3 1395.3,418.1 1409.8,409.0 1424.4,400.1 1439.0,391.3 1453.6,382.7 1468.2,374.3 1482.8,366.1 1497.3,358.1 1511.9,350.3 1526.5,342.6 1541.1,335.2 1555.7,328.0 1570.2,321.0 1584.8,314.2 1599.4,307.6 1614.0,301.3 1628.6,295.1 1643.2,289.2 1657.7,283.4 1672.3,277.9 1686.9,272.5 1701.5,267.4 1716.1,262.4 1730.7,257.6 1745.2,253.0 1759.8,248.5 1774.4,244.2 1789.0,240.0 1803.6,236.0 1818.2,232.0 1832.8,228.2 1847.3,224.5 1861.9,220.8 1876.5,217.1 1891.1,213.5 1891.1,224.5 1876.5,228.1 1861.9,231.8 1847.3,235.5 1832.8,239.2 1818.2,243.0 1803.6,247.0 1789.0,251.0 1774.4,255.2 1759.8,259.5 1745.2,264.0 1730.7,268.6 1716.1,273.4 1701.5,278.4 1686.9,283.5 1672.3,288.9 1657.7,294.4 1643.2,300.2 1628.6,306.1 1614.0,312.3 1599.4,318.6 1584.8,325.2 1570.2,332.0 1555.7,339.0 1541.1,346.2 1526.5,353.6 1511.9,361.3 1497.3,369.1 1482.8,377.1 1468.2,385.3 1453.6,393.7 1439.0,402.3 1424.4,411.1 1409.8,420.0 1395.3,429.1 1380.7,438.3 1366.1,447.6 1351.5,457.1 1336.9,466.7 1322.3,476.3 1307.8,486.0 1293.2,495.8 1278.6,505.6 1264.0,515.5 1249.4,525.4 1234.8,535.2 1220.2,545.0 1205.7,554.8 1191.1,564.5 1176.5,574.0 1161.9,583.5" fill="#9a00dc"/>
<polygon points="1161.9,568.1 1164.3,574.7 1171.3,574.9 1165.8,579.3 1167.7,586.0 1161.9,582.1 1156.1,586.0 1158.1,579.3 1152.5,574.9 1159.5,574.7" fill="#9a00dc"/>
<polygon points="1234.8,525.8 1237.2,532.4 1244.2,532.7 1238.7,537.0 1240.7,543.7 1234.8,539.8 1229.0,543.7 1231.0,537.0 1225.4,532.7 1232.5,532.4" fill="#9a00dc"/>
<polygon points="1307.8,475.6 1310.1,482.3 1317.2,482.5 1311.6,486.8 1313.6,493.5 1307.8,489.6 1301.9,493.5 1303.9,486.8 1298.3,482.5 1305.4,482.3" fill="#9a00dc"/>
<polygon points="1380.7,422.9 1383.0,429.5 1390.1,429.7 1384.5,434.0 1386.5,440.8 1380.7,436.8 1374.8,440.8 1376.8,434.0 1371.3,429.7 1378.3,429.5" fill="#9a00dc"/>
<polygon points="1453.6,378.3 1456.0,385.0 1463.0,385.2 1457.4,389.5 1459.4,396.3 1453.6,392.3 1447.8,396.3 1449.7,389.5 1444.2,385.2 1451.2,385.0" fill="#9a00dc"/>
<polygon points="1526.5,338.2 1528.9,344.8 1535.9,345.1 1530.4,349.4 1532.3,356.1 1526.5,352.2 1520.7,356.1 1522.6,349.4 1517.1,345.1 1524.1,344.8" fill="#9a00dc"/>
<polygon points="1599.4,303.2 1601.8,309.8 1608.8,310.1 1603.3,314.4 1605.2,321.1 1599.4,317.2 1593.6,321.1 1595.6,314.4 1590.0,310.1 1597.0,309.8" fill="#9a00dc"/>
<polygon points="1672.3,273.5 1674.7,280.1 1681.7,280.3 1676.2,284.6 1678.2,291.4 1672.3,287.4 1666.5,291.4 1668.5,284.6 1662.9,280.3 1670.0,280.1" fill="#9a00dc"/>
<polygon points="1745.2,253.6 1747.6,260.2 1754.7,260.4 1749.1,264.8 1751.1,271.5 1745.2,267.6 1739.4,271.5 1741.4,264.8 1735.8,260.4 1742.9,260.2" fill="#9a00dc"/>
<polygon points="1818.2,227.6 1820.5,234.3 1827.6,234.5 1822.0,238.8 1824.0,245.6 1818.2,241.6 1812.3,245.6 1814.3,238.8 1808.8,234.5 1815.8,234.3" fill="#9a00dc"/>
<polygon points="1891.1,209.1 1893.5,215.8 1900.5,216.0 1894.9,220.3 1896.9,227.0 1891.1,223.1 1885.3,227.0 1887.2,220.3 1881.7,216.0 1888.7,215.8" fill="#9a00dc"/>
</g>
<path d="M181.3 39.3H1966.2M214.3 912.5H1964.0M196.8 126.6H214.3M1071.5 126.6H1089.0M181.3 213.9H214.3M1056.0 213.9H1089.0M196.8 301.3H214.3M1071.5 301.3H1089.0M181.3 388.6H214.3M1056.0 388.6H1089.0M196.8 475.9H214.3M1071.5 475.9H1089.0M181.3 563.2H214.3M1056.0 563.2H1089.0M196.8 650.5H214.3M1071.5 650.5H1089.0M181.3 737.9H214.3M1056.0 737.9H1089.0M196.8 825.2H214.3M1071.5 825.2H1089.0M181.3 912.5H214.3M1056.0 912.5H1089.0" stroke="#1c1c1c" stroke-width="5.2" fill="none"/>
<path d="M214.3 36.7V945.5M1089.0 36.7V945.5M1964.0 36.7V945.5M287.3 912.5V930.0M1161.9 912.5V930.0M360.3 912.5V945.5M1234.8 912.5V945.5M433.3 912.5V930.0M1307.8 912.5V930.0M506.3 912.5V945.5M1380.7 912.5V945.5M579.3 912.5V930.0M1453.6 912.5V930.0M652.3 912.5V945.5M1526.5 912.5V945.5M725.3 912.5V930.0M1599.4 912.5V930.0M798.3 912.5V945.5M1672.3 912.5V945.5M871.3 912.5V930.0M1745.2 912.5V930.0M944.3 912.5V945.5M1818.2 912.5V945.5M1017.3 912.5V930.0M1891.1 912.5V930.0" stroke="#1c1c1c" stroke-width="4.4" fill="none"/>
<g font-family='"Liberation Sans", Arial, Helvetica, sans-serif' font-size="52" fill="#1a1a1a" stroke="#1a1a1a" stroke-width="0.5">
<text x="169.5" y="57.8" text-anchor="end">2</text>
<text x="169.5" y="232.4" text-anchor="end">0</text>
<text x="169.5" y="407.1" text-anchor="end">-2</text>
<text x="169.5" y="581.7" text-anchor="end">-4</text>
<text x="169.5" y="756.4" text-anchor="end">-6</text>
<text x="169.5" y="931.0" text-anchor="end">-8</text>
<text x="214.3" y="1004.5" text-anchor="middle">0.86</text>
<text x="360.3" y="1004.5" text-anchor="middle">0.88</text>
<text x="506.3" y="1004.5" text-anchor="middle">0.9</text>
<text x="652.3" y="1004.5" text-anchor="middle">0.92</text>
<text x="798.3" y="1004.5" text-anchor="middle">0.94</text>
<text x="944.3" y="1004.5" text-anchor="middle">0.96</text>
<text x="1089.0" y="1004.5" text-anchor="middle">0.86</text>
<text x="1234.8" y="1004.5" text-anchor="middle">0.88</text>
<text x="1380.7" y="1004.5" text-anchor="middle">0.9</text>
<text x="1526.5" y="1004.5" text-anchor="middle">0.92</text>
<text x="1672.3" y="1004.5" text-anchor="middle">0.94</text>
<text x="1818.2" y="1004.5" text-anchor="middle">0.96</text>
<text x="1964.0" y="1004.5" text-anchor="middle">0.98</text>
</g>
<g font-family='"Liberation Sans", Arial, Helvetica, sans-serif' font-weight="bold" fill="#111">
<text x="991.5" y="1079" font-size="73" xml:space="preserve">-E / V</text>
<text transform="translate(75.6 537.5) rotate(-90)" font-size="74">lnk<tspan font-size="62" dy="21">f</tspan></text>
<text transform="translate(369.5 138.5) scale(1.045 1)" font-size="50.5">carbimazole</text>
<text transform="translate(249.5 210.5) scale(1.045 1)" font-size="50.5">in 3 mol·dm<tspan dy="-13.5" font-size="48.5">-3</tspan><tspan dy="13.5"> NaClO</tspan><tspan dy="11.5" font-size="48.5">4</tspan></text>
<text transform="translate(1234 121.5) scale(1.045 1)" font-size="50.5">methimazole</text>
<text transform="translate(1121.5 192.5) scale(1.045 1)" font-size="50.5">in 3 mol·dm<tspan dy="-13.5" font-size="48.5">-3</tspan><tspan dy="13.5"> NaClO</tspan><tspan dy="11.5" font-size="48.5">4</tspan></text>
</g>
</svg>
</body>
</html>
